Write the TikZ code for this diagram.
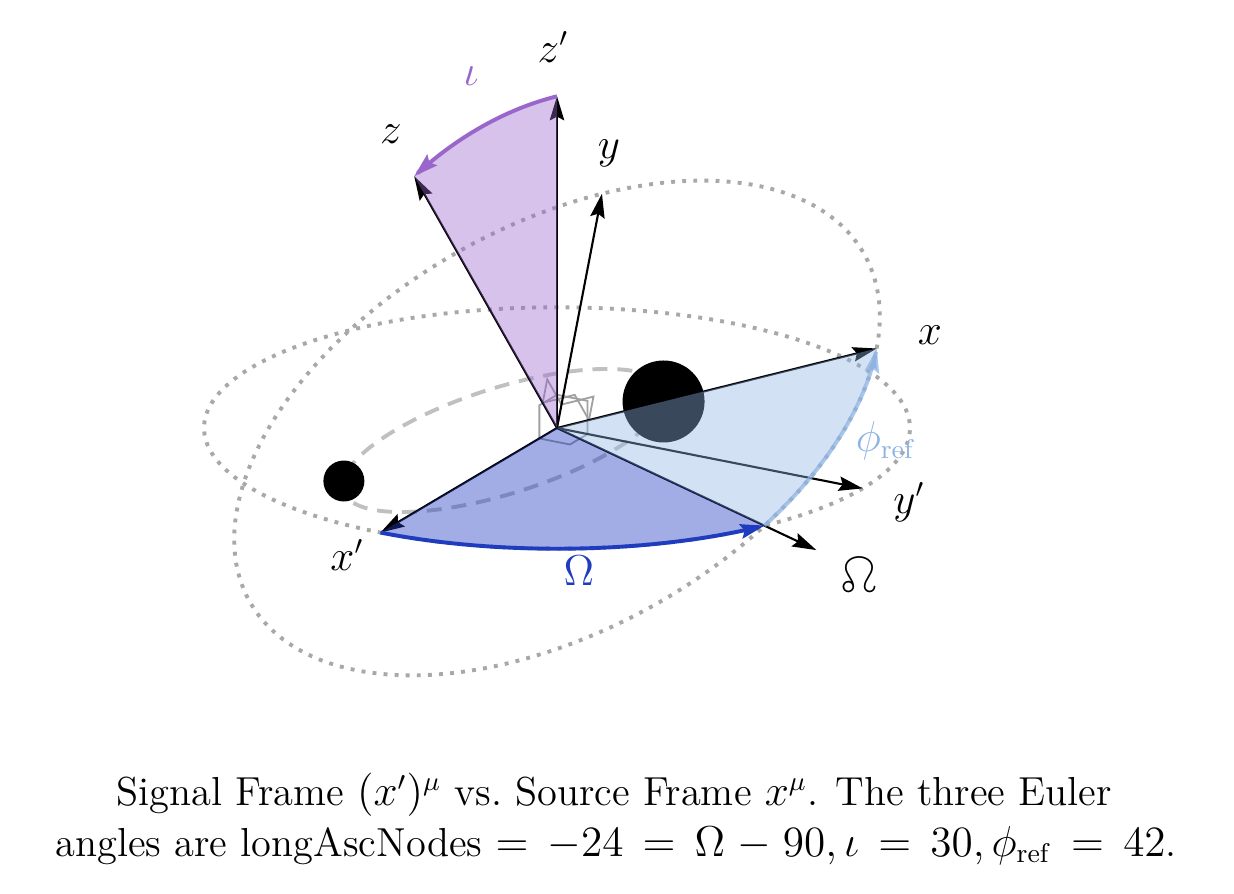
\documentclass[tikz,border=0pt]{standalone}
\usepackage{wasysym}
\usetikzlibrary{arrows.meta,calc}
\definecolor{iotac}{RGB}{153,102,204}
\definecolor{omegac}{RGB}{31,60,191}
\definecolor{phic}{RGB}{143,180,227}
\definecolor{orbitgray}{RGB}{192,192,192}
\definecolor{dotgray}{RGB}{168,168,168}
\definecolor{markgray}{RGB}{160,160,160}
\begin{document}
\begin{tikzpicture}[x=0.333333pt,y=0.333333pt,
  font=\fontsize{13.5}{16}\selectfont,
  axisarrow/.style={line width=0.7pt,-{Stealth[length=8pt,width=4.8pt,inset=1.2pt]}},
  arcarrow/.style={line width=1.3pt,-{Stealth[length=8pt,width=4.8pt,inset=1.2pt]}},
  dotcirc/.style={dotgray,line width=1.3pt,dash pattern=on 1.3pt off 2.4pt},
  orbit/.style={orbitgray,line width=1.3pt,dash pattern=on 5pt off 3.3pt},
  rmark/.style={markgray,line width=0.6pt},
  lbl/.style={inner sep=0pt}]
\useasboundingbox (0,0) rectangle (1234,893);

\begin{scope}[shift={(557,465)},
  x={(-58.833pt,-34.853pt)},y={(101.903pt,-20.123pt)},z={(0pt,110.57pt)}]
  \coordinate (O) at (0,0,0);
  \coordinate (Xp) at (1,0,0);
  \coordinate (Yp) at (0,1,0);
  \coordinate (Zp) at (0,0,1);
  \coordinate (Om) at (0.50843,1.14194,0);
  \coordinate (Zs) at (0.45677,-0.20337,0.86603);
  \coordinate (Xs) at (-0.22711,0.91460,0.33457);
  \coordinate (Ys) at (-0.86010,-0.34951,0.37157);
  \coordinate (Big) at (-0.07570,0.30487,0.11152);
  \coordinate (Small) at (0.15141,-0.60973,-0.22305);

  % dotted unit circles
  \draw[dotcirc] plot[domain=0:360,samples=160] ({cos(\x)},{sin(\x)},0) -- cycle;
  \draw[dotcirc] plot[domain=0:360,samples=160]
    ({-0.22711*cos(\x)-0.86010*sin(\x)},{0.91460*cos(\x)-0.34951*sin(\x)},{0.33457*cos(\x)+0.37157*sin(\x)}) -- cycle;
\end{scope}

% binary orbit
\draw[orbit] plot[domain=0:360,samples=120] ({504+161*cos(\x)+14*sin(\x)},{452.5+40.5*cos(\x)+59*sin(\x)}) -- cycle;
% bodies
\fill (Small) circle[radius=20.5];
\fill (Big) circle[radius=41];

\begin{scope}[shift={(557,465)},
  x={(-58.833pt,-34.853pt)},y={(101.903pt,-20.123pt)},z={(0pt,110.57pt)}]
  % right-angle markers, signal frame
  \draw[rmark] (0.1,0,0) -- (0.1,0,0.1) -- (0,0,0.1);
  \draw[rmark] (0,0.1,0) -- (0,0.1,0.1) -- (0,0,0.1);
  \draw[rmark] (0.1,0,0) -- (0.1,0.1,0) -- (0,0.1,0);
  % right-angle markers, source frame
  \draw[rmark] (-0.022711,0.091460,0.033457) -- (0.022966,0.071123,0.120060) -- (0.045677,-0.020337,0.086603);
  \draw[rmark] (-0.086010,-0.034951,0.037157) -- (-0.040333,-0.055288,0.123760) -- (0.045677,-0.020337,0.086603);
  \draw[rmark] (-0.022711,0.091460,0.033457) -- (-0.108721,0.056509,0.070614) -- (-0.086010,-0.034951,0.037157);

  % axes
  \draw[axisarrow] (O) -- (Zp);
  \draw[axisarrow] (O) -- (Zs);
  \draw[axisarrow] (O) -- (Xp);
  \draw[axisarrow] (O) -- (Om);
  \draw[axisarrow] (O) -- (Yp);
  \draw[axisarrow] (O) -- (Xs);
  \draw[axisarrow] (O) -- (Ys);

  % wedges
  \fill[iotac,opacity=0.4] (O) -- plot[domain=0:30,samples=40]
    ({0.91355*sin(\x)},{-0.40674*sin(\x)},{cos(\x)}) -- cycle;
  \fill[omegac,opacity=0.42] (O) -- plot[domain=0:66,samples=60]
    ({cos(\x)},{sin(\x)},0) -- cycle;
  \fill[phic,opacity=0.4] (O) -- plot[domain=0:42,samples=50]
    ({0.40674*cos(\x)-0.79115*sin(\x)},{0.91355*cos(\x)+0.35225*sin(\x)},{0.5*sin(\x)}) -- cycle;

  % angle arcs
  \draw[arcarrow,iotac] plot[domain=0:30,samples=40]
    ({0.91355*sin(\x)},{-0.40674*sin(\x)},{cos(\x)});
  \draw[arcarrow,omegac] plot[domain=0:66,samples=60]
    ({cos(\x)},{sin(\x)},0);
  \draw[arcarrow,phic,draw opacity=0.75] plot[domain=0:42,samples=50]
    ({0.40674*cos(\x)-0.79115*sin(\x)},{0.91355*cos(\x)+0.35225*sin(\x)},{0.5*sin(\x)});
\end{scope}

% labels
\node[lbl] (lzp) at (553,846) {$z'$};
\node[lbl] (lz) at (391,759) {$z$};
\node[lbl] (ly) at (609,740) {$y$};
\node[lbl] (lx) at (930,558) {$x$};
\node[lbl] (lyp) at (909,391) {$y'$};
\node[lbl] (lxp) at (347,338) {$x'$};
\node[lbl] (lasc) at (859,318) {\ascnode};
\node[lbl,text=iotac] (liota) at (471,817) {$\iota$};
\node[lbl,text=omegac] (lOmega) at (579,322) {$\Omega$};
\node[lbl,text=phic] (lphi) at (886,452) {$\phi_{\mathrm{ref}}$};

% caption
\node[anchor=base] (cap1) at (614,87) {Signal Frame $(x')^{\mu}$ vs.\ Source Frame $x^{\mu}$. The three Euler};
\node[anchor=base] (cap2) at (616,37) {\thickmuskip=8mu\medmuskip=5mu angles are longAscNodes $=-24=\Omega-90,\iota=30,\phi_{\mathrm{ref}}=42$.};
\end{tikzpicture}
\end{document}
